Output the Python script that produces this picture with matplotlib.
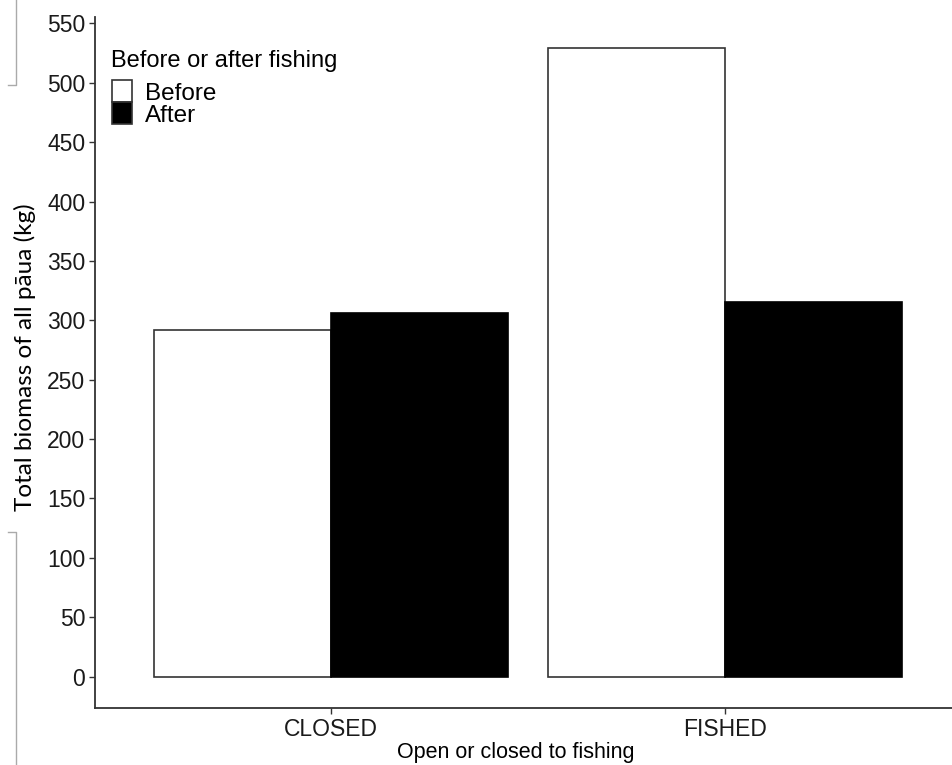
import numpy as np
import matplotlib.pyplot as plt
from matplotlib.patches import Rectangle
from matplotlib.lines import Line2D

# Biomass by site status, before and after fishing
status = ['CLOSED', 'FISHED']
before = [292, 529]
after = [306, 315]
legend_title = 'Before or after fishing'
legend_labels = ['Before', 'After']

plt.rcParams['font.family'] = ['Liberation Sans', 'DejaVu Sans']

W, H = 952, 765
fig = plt.figure(figsize=(W / 100, H / 100), dpi=100)
ax = fig.add_axes([95 / W, (H - 708) / H, 866 / W, (708 - 17) / H])


def fx(px):
    return px / W


def fy(py):
    return 1 - py / H


x = np.arange(1, len(status) + 1)
w = 0.45
ax.bar(x - w / 2, before, width=w, color='white', edgecolor='#333333', linewidth=1.2)
ax.bar(x + w / 2, after, width=w, color='black', edgecolor='black', linewidth=1.2)

ax.set_xlim(0.4, 2.6)
ax.set_ylim(-26.5, 555.4)
ax.set_yticks(range(0, 551, 50))
ax.set_xticks(x)
ax.set_xticklabels(status)

for s in ['top', 'right']:
    ax.spines[s].set_visible(False)
for s in ['left', 'bottom']:
    ax.spines[s].set_linewidth(1.3)
    ax.spines[s].set_color('#333333')
ax.tick_params(axis='both', length=4, width=1, color='#333333',
               labelsize=16.5, labelcolor='#1a1a1a', pad=3)

# axis titles
fig.text(fx(515.5), fy(758), 'Open or closed to fishing', fontsize=15.5,
         ha='center', va='baseline')
fig.text(fx(25), fy(357), 'Total biomass of all pāua (kg)', rotation=90,
         ha='center', va='center', fontsize=17.5, family=['Lato', 'DejaVu Sans'])

# legend keys and labels
fig.text(fx(111), fy(67), legend_title, fontsize=17, ha='left', va='baseline')
fills = ['white', 'black']
for i, (lab, fc) in enumerate(zip(legend_labels, fills)):
    top = 80 + 22 * i
    fig.add_artist(Rectangle((fx(112), fy(top + 22)), 20 / W, 22 / H,
                             transform=fig.transFigure, facecolor=fc,
                             edgecolor='#333333', linewidth=1.2))
    fig.text(fx(145), fy(top + 20), lab, fontsize=17.5, ha='left', va='baseline')

# thin grey edges left over along the left margin
fig.add_artist(Line2D([fx(16), fx(16), fx(8)], [1, fy(85), fy(85)],
                      color='#aaaaaa', linewidth=1))
fig.add_artist(Line2D([fx(8), fx(16), fx(16)], [fy(532), fy(532), 0],
                      color='#aaaaaa', linewidth=1))

fig.savefig('out.png', dpi=100)
